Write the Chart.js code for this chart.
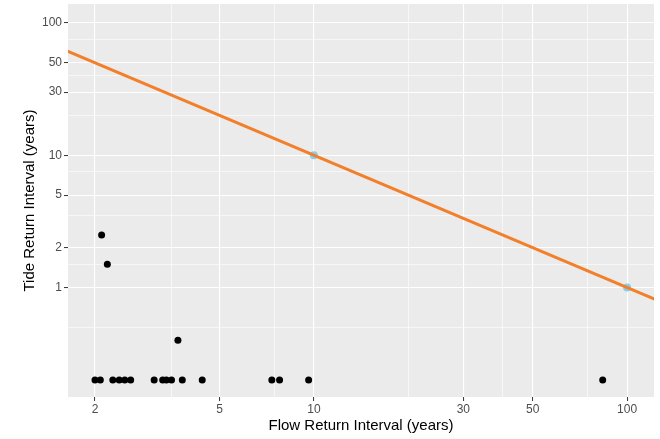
<!DOCTYPE html>
<html>
<head>
<meta charset="utf-8">
<script src="https://cdn.jsdelivr.net/npm/chart.js@4/dist/chart.umd.min.js"></script>
<style>
  html, body { margin: 0; padding: 0; background: #fff; }
</style>
</head>
<body>
<canvas id="returnChart" width="660" height="439"></canvas>
<script>
// observed events
const flowReturn = [2.0, 2.08, 2.10, 2.19, 2.28, 2.39, 2.49, 2.60, 3.09, 3.29, 3.38, 3.51, 3.68, 3.80, 4.40, 7.34, 7.77, 9.62, 83.6];
const tideReturn = [0.2, 0.2, 2.5, 1.5, 0.2, 0.2, 0.2, 0.2, 0.2, 0.2, 0.2, 0.2, 0.4, 0.2, 0.2, 0.2, 0.2, 0.2, 0.2];

// design points
const designFlow = [10, 100];
const designTide = [10, 1];

// joint return line
const lineFlow = [1.5, 150];
const lineTide = [66.7, 0.667];

// axis breaks
const xMajor = [2, 5, 10, 30, 50, 100];
const xMinor = [3.5, 7.5, 20, 40, 75];
const yMajor = [1, 2, 5, 10, 30, 50, 100];
const yMinor = [0.5, 1.5, 3.5, 7.5, 20, 40, 75];

const toPoints = (xs, ys) => xs.map((x, i) => ({ x: x, y: ys[i] }));

const panelBg = {
	id: 'panelBg',
	beforeDraw(chart) {
		const a = chart.chartArea;
		const ctx = chart.ctx;
		ctx.save();
		ctx.fillStyle = '#EBEBEB';
		ctx.fillRect(a.left, a.top, a.right - a.left, a.bottom - a.top);
		ctx.restore();
	}
};

function axisOptions(major, minor, min, max, title, pos) {
	const majorSet = new Set(major);
	const isMajor = (c) => c.tick && majorSet.has(c.tick.value);
	return {
		type: 'logarithmic',
		position: pos,
		min: min,
		max: max,
		bounds: 'data',
		afterBuildTicks: (scale) => {
			scale.ticks = major.concat(minor).sort((a, b) => a - b).map(v => ({ value: v }));
		},
		afterFit: (scale) => {
			// keep the panel where the reference has it
			scale.paddingTop = 0;
			scale.paddingBottom = 0;
			scale.paddingLeft = 0;
			scale.paddingRight = 0;
			if (pos === 'left') scale.width = 68;
			else scale.height = 42;
		},
		border: { display: false },
		grid: {
			color: '#FFFFFF',
			lineWidth: (c) => isMajor(c) ? 1.1 : 0.6,
			tickColor: (c) => isMajor(c) ? '#333333' : 'rgba(0,0,0,0)',
			tickLength: 4,
			tickWidth: 1
		},
		ticks: {
			autoSkip: false,
			maxRotation: 0,
			padding: pos === 'left' ? 2 : 1,
			color: '#4D4D4D',
			font: { family: 'Liberation Sans, Arial, sans-serif', size: 12 },
			callback: (v) => majorSet.has(v) ? String(v) : ''
		},
		title: {
			display: true,
			text: title,
			color: '#000000',
			font: { family: 'Liberation Sans, Arial, sans-serif', size: 15 },
			padding: pos === 'left' ? { top: 21, bottom: 0 } : { top: 0, bottom: 4 }
		}
	};
}

const ctx = document.getElementById('returnChart').getContext('2d');
new Chart(ctx, {
	type: 'scatter',
	data: {
		datasets: [{
			type: 'line',
			label: 'Joint return',
			data: toPoints(lineFlow, lineTide),
			borderColor: '#F27F2A',
			borderWidth: 3,
			pointRadius: 0,
			fill: false,
			clip: 0
		}, {
			label: 'Design',
			data: toPoints(designFlow, designTide),
			backgroundColor: '#87CDEE',
			borderWidth: 0,
			pointRadius: 4
		}, {
			label: 'Events',
			data: toPoints(flowReturn, tideReturn),
			backgroundColor: '#000000',
			borderWidth: 0,
			pointRadius: 3.5
		}]
	},
	options: {
		responsive: false,
		devicePixelRatio: 1,
		animation: false,
		layout: { padding: { top: 2, right: 6, left: 0, bottom: 0 } },
		plugins: {
			legend: { display: false },
			tooltip: { enabled: false }
		},
		scales: {
			x: axisOptions(xMajor, xMinor, 1.64, 121.9, 'Flow Return Interval (years)', 'bottom'),
			y: axisOptions(yMajor, yMinor, 0.149, 139, 'Tide Return Interval (years)', 'left')
		}
	},
	plugins: [panelBg]
});
</script>
</body>
</html>
